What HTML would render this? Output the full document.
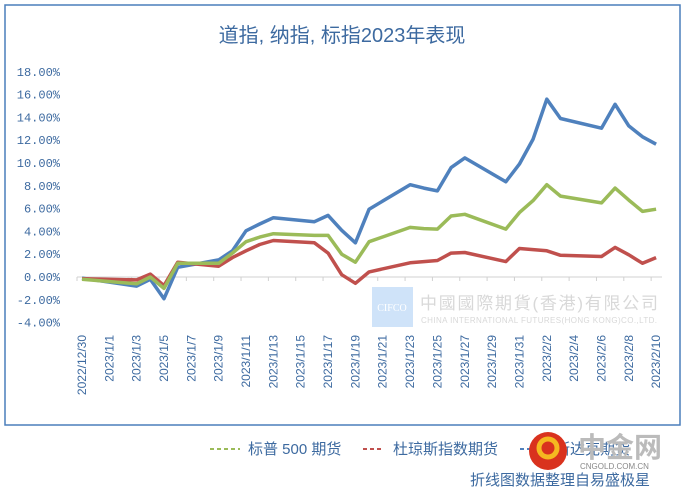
<!DOCTYPE html>
<html><head><meta charset="utf-8"><style>
body{margin:0;background:#fff;}
svg{display:block;font-family:"Liberation Sans","Noto Sans CJK SC",sans-serif;}
</style></head><body>
<svg id="chart" width="685" height="495">
<rect x="5" y="5" width="675" height="420" fill="#fff" stroke="#4a7ebb" stroke-width="1.5"/>
<text x="342" y="42" text-anchor="middle" font-size="20" fill="#3d6aa0" font-family="'Liberation Sans','Noto Sans CJK SC',sans-serif">道指, 纳指, 标指2023年表现</text>
<g>
<rect x="372" y="287" width="41" height="40" fill="#cfe3f9"/>
<text x="392" y="311" text-anchor="middle" font-size="10" fill="#fff" font-family="'Liberation Serif',serif">CIFCO</text>
<text x="420" y="309" font-size="17" fill="#d8d8d8" textLength="238">中國國際期貨(香港)有限公司</text>
<text x="421" y="323" font-size="8" fill="#d8d8d8" textLength="236">CHINA INTERNATIONAL FUTURES(HONG KONG)CO.,LTD.</text>
</g>
<g id="axes"></g>
<g id="series"></g>
<g font-size="15" fill="#3d6aa0">
<line x1="210" y1="449" x2="240" y2="449" stroke="#9bbb59" stroke-width="2" stroke-dasharray="4,3"/>
<text x="248" y="454">标普 500 期货</text>
<line x1="363" y1="449" x2="384" y2="449" stroke="#c0504d" stroke-width="2" stroke-dasharray="4,3"/>
<text x="393" y="454">杜琼斯指数期货</text>
<line x1="520" y1="449" x2="534" y2="449" stroke="#4f81bd" stroke-width="2" stroke-dasharray="4,3"/>
<text x="540" y="454">纳斯达克期货</text>
</g>
<g>
<circle cx="548" cy="451" r="19" fill="#d9321e"/>
<circle cx="548" cy="448" r="9" fill="none" stroke="#f5b820" stroke-width="5"/>
<text x="578" y="457" font-size="28" font-weight="bold" fill="#bbbbbb">中金网</text>
<text x="580" y="469" font-size="8" fill="#888">CNGOLD.COM.CN</text>
</g>
<text x="470" y="485" font-size="15" fill="#3d6aa0">折线图数据整理自易盛极星</text>
</svg>
<script>
const days=[0,4,5,6,7,10,11,12,13,14,17,18,19,20,21,24,25,26,27,28,31,32,33,34,35,38,39,40,41,42];
const nasdaq=[-0.1,-0.8,-0.2,-1.9,0.85,1.5,2.3,4.05,4.65,5.2,4.85,5.4,4.1,3.0,5.95,8.1,7.8,7.55,9.6,10.45,8.35,9.9,12.1,15.6,13.9,13.05,15.15,13.25,12.3,11.65];
const sp500=[-0.2,-0.6,0.0,-1.0,1.2,1.2,2.1,3.1,3.5,3.8,3.65,3.65,2.0,1.3,3.1,4.35,4.25,4.2,5.35,5.5,4.2,5.65,6.7,8.1,7.1,6.5,7.8,6.75,5.75,5.95];
const dow=[-0.15,-0.25,0.25,-0.75,1.3,0.95,1.7,2.3,2.85,3.2,3.0,2.1,0.2,-0.55,0.45,1.25,1.35,1.45,2.1,2.15,1.35,2.5,2.4,2.3,1.9,1.8,2.6,1.95,1.2,1.7];
const yTicks=[18,16,14,12,10,8,6,4,2,0,-2,-4];
const xLabels=["2022/12/30","2023/1/1","2023/1/3","2023/1/5","2023/1/7","2023/1/9","2023/1/11","2023/1/13","2023/1/15","2023/1/17","2023/1/19","2023/1/21","2023/1/23","2023/1/25","2023/1/27","2023/1/29","2023/1/31","2023/2/2","2023/2/4","2023/2/6","2023/2/8","2023/2/10"];
const NS="http://www.w3.org/2000/svg";
function x(d){return 82+d*13.67;}
function y(v){return 277-v*11.4;}
const axes=document.getElementById('axes');
yTicks.forEach(t=>{
 const tx=document.createElementNS(NS,'text');
 tx.setAttribute('x',60);tx.setAttribute('y',y(t)+4);tx.setAttribute('text-anchor','end');
 tx.setAttribute('font-size','12');tx.setAttribute('fill','#3d6aa0');tx.setAttribute('font-family','"Liberation Mono",monospace');
 tx.textContent=t.toFixed(2)+'%';
 
 
 axes.appendChild(tx);
});
const zl=document.createElementNS(NS,'line');
zl.setAttribute('x1',77);zl.setAttribute('x2',662);zl.setAttribute('y1',y(0));zl.setAttribute('y2',y(0));
zl.setAttribute('stroke','#d0d0d0');zl.setAttribute('stroke-width','1');


axes.appendChild(zl);
xLabels.forEach((l,i)=>{
 const px=x(i*2)-5;
 const tk=document.createElementNS(NS,'line');
 tk.setAttribute('x1',px);tk.setAttribute('x2',px);tk.setAttribute('y1',y(0));tk.setAttribute('y2',y(0)+4);tk.setAttribute('stroke','#d0d0d0');
 
 
 axes.appendChild(tk);
 const tx=document.createElementNS(NS,'text');
 const cx=x(i*2)+4;
 tx.setAttribute('transform','translate('+cx+',335) rotate(-90)');
 tx.setAttribute('text-anchor','end');tx.setAttribute('font-size','12');tx.setAttribute('fill','#3d6aa0');
 tx.textContent=l;
 
 
 axes.appendChild(tx);
});
const ser=document.getElementById('series');
[[nasdaq,'#4f81bd','nasdaq-line'],[dow,'#c0504d','dow-line'],[sp500,'#9bbb59','sp500-line']].forEach(s=>{
 const p=document.createElementNS(NS,'polyline');
 p.setAttribute('points',days.map((d,i)=>x(d).toFixed(1)+','+y(s[0][i]).toFixed(1)).join(' '));
 p.setAttribute('fill','none');p.setAttribute('stroke',s[1]);p.setAttribute('stroke-width','3.5');p.setAttribute('stroke-linejoin','round');
 
 
 ser.appendChild(p);
});
</script>
</body></html>
